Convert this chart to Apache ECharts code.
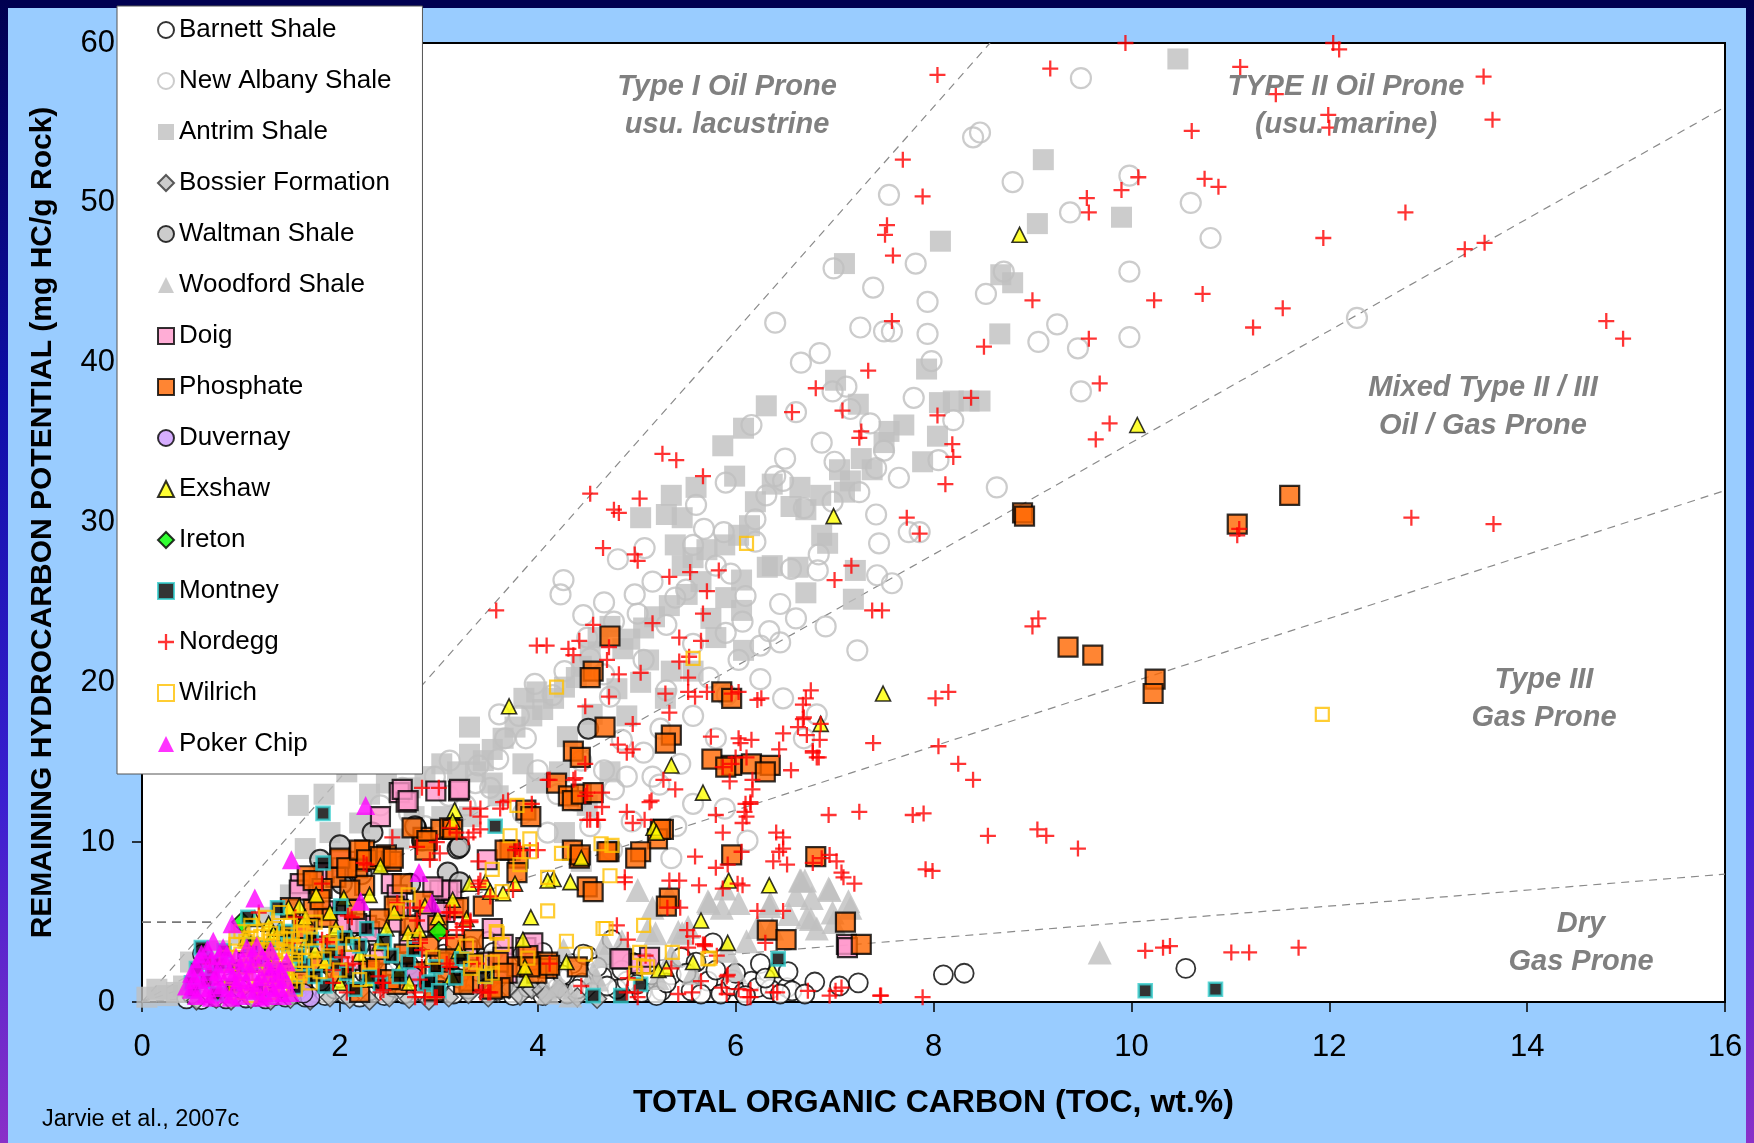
<!DOCTYPE html>
<html>
<head>
<meta charset="utf-8">
<script src="https://cdn.jsdelivr.net/npm/echarts/dist/echarts.min.js"></script>
<style>html,body{margin:0;padding:0;background:#99CCFF;}#c{width:1754px;height:1143px;}</style>
</head>
<body>
<div id="c"></div>
<script>
// ---------- axis ticks ----------
const xTicks = [0, 2, 4, 6, 8, 10, 12, 14, 16];
const yTicks = [0, 10, 20, 30, 40, 50, 60];
// hydrogen-index boundary lines (S2/TOC ratio) and the S2 = 5 cutoff
const hiRatios = [7, 3.5, 2, 0.5];
const s2Cutoff = 5;

// ---------- series data [TOC, S2] ----------
const barnett = [[0.45,0.2],[0.6,0.15],[0.75,0.3],[0.85,0.2],[0.95,0.4],[1.05,0.25],[1.15,0.35],[1.25,0.2],[1.35,0.4],[1.45,0.3],[1.55,0.5],[1.65,0.3],[1.75,0.6],[1.85,0.4],[1.95,0.8],[2.05,0.5],[2.15,1.0],[2.2,0.3],[2.3,0.7],[2.4,1.3],[2.45,0.4],[2.55,0.9],[2.6,2.5],[2.65,0.5],[2.75,1.6],[2.8,2.9],[2.85,0.6],[2.95,2.4],[3.0,1.0],[3.1,2.0],[3.15,0.5],[3.2,1.5],[3.3,0.8],[3.37,1.1],[3.45,2.3],[3.55,0.6],[3.6,1.4],[3.7,2.5],[3.75,0.4],[3.8,1.8],[3.9,0.9],[4.0,1.8],[4.05,0.4],[4.15,2.2],[4.2,0.9],[4.3,0.5],[4.35,2.4],[4.45,1.2],[4.5,2.9],[4.55,0.6],[4.65,1.6],[4.75,3.9],[4.8,0.8],[4.9,1.3],[4.95,2.5],[5.05,0.6],[5.15,1.7],[5.25,0.7],[5.35,1.7],[5.45,2.8],[5.55,0.7],[5.6,2.5],[5.72,1.3],[5.77,3.7],[5.85,0.5],[5.95,1.0],[5.97,1.4],[6.08,0.6],[6.16,1.3],[6.22,0.9],[6.25,2.4],[6.35,0.8],[6.52,0.9],[6.53,1.9],[6.57,0.7],[6.8,1.25],[7.24,1.2],[8.1,1.7],[8.31,1.8],[10.55,2.1],[3.32,3.5],[3.5,3.8],[2.2,3.6],[2.4,4.6],[3.85,3.0],[4.05,3.1],[4.46,3.0],
[0.5,0.5],[0.65,0.6],[0.8,0.7],[1.0,0.8],[1.2,0.6],[1.4,0.9],[1.6,1.1],[1.8,1.3],[2.0,1.5],[2.1,2.2],[2.25,1.8],[2.35,2.8],[2.5,1.9],[2.7,2.3],[2.9,1.7],[3.05,3.0],[3.25,2.6],[3.4,1.9],[3.55,3.1],[3.65,1.0],[3.95,2.6],[4.1,1.3],[4.25,1.7],[4.4,0.8],[4.6,2.2],[4.7,1.0],[4.85,2.0],[5.0,1.1],[5.1,2.4],[5.2,0.4],[5.3,1.2],[5.5,1.8],[5.65,0.5],[5.8,2.0],[6.0,1.8],[6.1,0.4],[6.3,1.5],[6.45,0.5],[6.7,0.5],[7.05,1.0]];

const newAlbany = [[9.49,57.8],[8.40,54.1],[8.47,54.4],[7.55,50.5],[8.80,51.3],[9.98,51.7],[9.38,49.4],[10.6,50.0],[10.8,47.8],[7.82,46.2],[6.99,45.9],[7.39,44.7],[7.94,43.8],[8.71,45.7],[8.53,44.3],[9.98,45.7],[12.28,42.8],[6.40,42.5],[7.26,42.2],[7.50,41.96],[7.58,41.96],[7.94,41.8],[9.25,42.4],[9.98,41.6],[9.06,41.3],[9.46,40.9],[6.66,40.0],[7.98,40.1],[9.49,38.2],[8.64,32.2],[6.98,38.2],[6.61,36.9],[7.12,38.5],[7.16,37.1],[6.16,36.1],[7.36,36.2],[7.50,34.5],[7.42,33.4],[6.87,35.0],[6.50,34.0],[6.40,32.9],[6.48,32.6],[5.90,32.5],[6.31,31.7],[6.69,30.9],[6.98,31.3],[7.42,30.5],[7.75,29.4],[7.86,29.4],[7.45,28.7],[6.84,28.0],[6.83,27.0],[5.88,29.4],[5.57,28.6],[5.68,29.6],[5.08,28.4],[4.81,27.7],[5.16,26.3],[4.26,26.4],[4.23,25.5],[4.46,24.2],[4.77,23.8],[4.67,25.0],[5.01,24.3],[5.39,25.3],[6.45,24.9],[6.61,24.0],[6.91,23.5],[7.23,22.0],[7.58,26.2],[7.43,26.7],[6.56,27.1],[6.07,23.8],[6.25,22.3],[6.03,21.4],[6.45,22.5],[6.34,23.2],[6.25,20.2],[5.57,22.4],[5.73,20.3],[5.57,17.9],[5.80,16.5],[5.24,17.1],[5.44,14.9],[6.69,16.5],[6.82,18.0],[6.48,19.0],[5.07,15.6],[4.73,19.1],[4.67,20.5],[4.53,21.5],[4.27,20.7],[3.97,19.9],[3.81,17.9],[3.61,18.0],[3.67,16.5],[3.88,16.5],[4.15,19.2],[4.44,15.1],[4.67,14.5],[4.77,13.3],[4.39,12.6],[4.53,11.0],[4.36,9.5],[4.75,9.5],[4.10,10.6],[3.85,11.8],[3.52,13.4],[3.37,13.7],[3.27,12.3],[3.11,15.1],[2.96,14.1],[5.57,12.4],[5.16,14.1],[6.12,10.1],[5.89,12.1],[5.40,11.0],[4.95,11.3],[5.35,9.0],[2.86,11.0],[2.63,13.4],[2.41,12.3],[5.91,19.2],[4.85,16.4],[5.30,19.5],[5.07,21.4],[4.90,14.1],[5.23,13.6],[3.40,14.8],[3.6,15.2],[4.0,14.5],[4.2,13.0],[3.1,12.9],[2.7,11.8],[5.3,23.6],[5.5,25.8],[5.8,27.3],[6.2,28.8],[5.95,26.8],[4.98,25.5],[4.5,22.8],[5.9,23.1],[6.1,25.4],[7.0,33.8],[7.25,31.9],[7.65,32.8],[8.05,33.9],[8.2,36.4],[7.8,37.8],[6.85,40.6],[6.2,30.2],[5.6,31.1]];

const antrim = [[10.47,59.0],[9.11,52.7],[9.05,48.7],[9.9,49.1],[8.07,47.6],[7.10,46.2],[8.68,45.5],[8.80,45.0],[8.67,41.8],[7.93,39.6],[7.01,38.9],[6.31,37.3],[6.08,35.9],[5.87,34.8],[7.24,37.4],[8.2,37.6],[8.36,37.6],[8.47,37.6],[8.06,37.5],[8.04,35.4],[7.89,33.8],[7.70,36.1],[7.55,35.7],[7.50,35.0],[7.38,33.3],[7.27,34.0],[7.16,32.6],[7.05,33.3],[7.10,31.9],[6.86,31.7],[6.65,32.2],[6.56,31.0],[6.37,32.4],[6.20,31.3],[5.99,32.9],[5.60,32.2],[5.35,31.7],[5.30,30.5],[5.46,30.3],[5.04,30.3],[6.14,29.8],[6.03,29.2],[5.89,28.6],[5.71,28.3],[5.57,27.8],[5.39,28.6],[6.93,28.7],[6.87,29.2],[6.63,27.2],[6.37,27.3],[7.21,27.0],[7.19,25.2],[6.06,26.4],[6.06,24.5],[6.08,22.0],[5.65,26.3],[5.51,25.5],[5.33,24.8],[5.18,24.1],[5.07,23.4],[4.93,22.7],[4.86,22.1],[5.46,27.3],[4.73,23.5],[4.61,22.8],[4.53,21.9],[4.44,21.0],[5.12,21.4],[5.35,20.7],[5.29,19.0],[5.57,20.7],[5.04,20.0],[4.39,20.3],[4.27,19.7],[4.16,19.0],[4.05,18.3],[3.94,17.9],[3.77,17.2],[3.65,16.5],[3.54,15.8],[3.45,15.1],[3.37,14.4],[3.86,19.0],[3.99,19.4],[3.31,17.2],[3.54,13.7],[3.31,15.5],[3.19,14.4],[3.03,14.9],[2.86,14.1],[2.71,13.4],[2.47,13.7],[2.52,15.1],[2.30,13.0],[2.07,14.4],[1.84,13.0],[1.58,12.3],[3.31,11.6],[3.99,13.7],[4.22,14.4],[4.90,17.9],[4.73,14.4],[4.50,12.3],[4.27,10.6],[4.44,8.8],[3.03,11.6],[2.75,11.6],[2.41,8.8],[2.07,8.1],[1.79,7.8],[1.50,6.7],[1.28,5.3],[1.00,4.3],[0.77,3.2],[0.49,2.5],[0.15,0.8],[0.26,0.4],[6.71,30.8],[5.80,22.8],[6.71,25.6],[6.32,27.2],[0.05,0.3],[0.35,0.6],[0.42,1.0],[2.2,11.2],[1.9,10.6],[1.65,9.6],[2.6,10.2],[3.6,12.9],[3.85,14.9],[4.3,16.6],[4.55,18.0],[4.8,19.6],[5.75,24.0],[5.9,25.3]];

const bossier = [[0.55,0.1],[0.75,0.2],[0.9,0.1],[1.1,0.2],[1.3,0.1],[1.5,0.2],[1.7,0.1],[1.9,0.3],[2.1,0.2],[2.3,0.1],[2.5,0.3],[2.7,0.2],[2.9,0.1],[3.1,0.3],[3.3,0.5],[3.5,0.3],[3.6,0.6],[3.71,0.8],[3.82,0.4],[3.94,0.8],[4.04,0.75],[4.08,0.4],[4.22,0.8],[4.4,0.3],[4.6,0.2]];

const waltman = [[4.51,17.1],[2.33,10.6],[3.19,9.6],[2.77,10.9],[2.83,10.1],[2.41,8.8],[2.22,8.0],[2.02,7.4],[3.09,8.1],[2.71,7.4],[3.03,6.0],[3.21,9.7],[3.21,7.5],[2.76,11.0],[2.0,9.8],[1.8,8.9]];

const woodford = [[9.68,3.1],[6.66,7.6],[6.94,7.1],[6.61,6.7],[6.76,5.2],[7.16,5.9],[5.01,7.0],[5.33,6.7],[5.73,6.2],[5.11,4.5],[5.46,4.3],[6.03,6.2],[6.34,6.0],[5.91,3.2],[4.67,2.9],[4.85,3.8],[5.35,2.9],[5.57,1.8],[6.37,4.6],[6.54,5.5],[6.82,4.6],[6.99,5.0],[6.11,3.8],[5.21,1.5],[4.22,1.1],[3.88,1.7],[4.56,1.8],[4.10,0.6],[4.33,0.4],[5.89,7.1],[5.16,5.9],[5.19,4.3],[5.42,4.4],[5.52,4.7],[5.72,6.3],[5.86,5.9],[6.35,6.2],[6.65,7.6],[6.70,7.6],[6.77,6.5],[6.95,7.0],[6.72,5.3],[6.98,5.6],[7.14,6.3],[6.22,4.7],[5.99,2.0],[4.68,3.7],[4.60,1.4],[4.19,0.9],[4.26,3.25]];

const doig = [[2.60,13.1],[2.67,12.5],[2.41,11.6],[3.20,13.2],[2.97,13.2],[2.01,8.8],[1.84,8.1],[2.20,8.8],[2.52,7.4],[2.58,6.7],[3.09,6.9],[3.15,5.9],[2.86,5.0],[1.84,5.7],[2.07,5.0],[1.62,4.6],[1.39,3.9],[1.20,3.2],[1.07,2.5],[3.54,4.6],[3.49,2.5],[3.29,3.2],[3.65,3.6],[3.88,3.4],[4.85,2.7],[5.04,2.4],[7.12,3.6],[7.13,3.4],[4.83,2.7],[5.13,2.8],[3.95,3.7],[3.65,2.8],[3.69,1.8],[3.13,7.0],[3.01,7.0],[3.06,5.6],[3.49,8.9],[2.63,13.3],[2.69,12.6],[3.21,13.3],[2.56,5.0],[2.59,5.8],[2.0,8.9],[2.02,8.4],[2.27,4.8],[2.30,4.4],[2.17,4.9],[2.0,4.9],[1.6,7.4],[1.59,7.0],[2.94,7.2],[2.4,3.0],[1.8,3.5],[2.7,3.7],[2.1,2.6]];

const phosphate = [[11.60,31.7],[11.07,29.9],[8.90,30.6],[8.92,30.4],[9.36,22.2],[9.61,21.7],[10.24,20.2],[10.22,19.3],[4.73,22.9],[4.56,20.7],[4.53,20.3],[5.86,19.4],[5.96,19.0],[5.35,16.7],[5.29,16.2],[4.68,17.2],[4.36,15.7],[4.43,15.3],[5.76,15.2],[5.96,14.8],[5.90,14.7],[6.16,14.9],[6.35,14.8],[6.30,14.4],[4.19,13.7],[4.31,12.9],[4.35,12.6],[4.44,13.0],[4.56,13.1],[3.88,12.0],[3.93,11.6],[6.81,9.1],[5.96,9.2],[5.27,10.8],[5.21,10.2],[5.24,10.8],[5.04,9.4],[4.99,9.0],[4.72,9.4],[4.70,9.4],[4.42,9.0],[4.35,9.5],[4.43,9.2],[4.50,7.2],[4.56,6.9],[3.72,9.5],[3.80,9.0],[3.79,8.1],[3.67,9.5],[2.84,10.3],[2.73,10.9],[3.02,10.8],[3.11,10.9],[3.14,10.8],[2.88,10.1],[2.86,9.5],[2.47,9.2],[2.52,8.8],[2.25,9.5],[2.18,8.4],[2.0,9.0],[1.96,7.8],[1.67,7.9],[1.82,7.1],[2.25,7.3],[2.63,7.4],[2.55,6.0],[2.84,6.3],[3.20,5.9],[2.99,4.8],[2.71,4.8],[3.17,3.6],[4.10,2.5],[3.79,2.2],[3.90,2.9],[4.40,2.2],[4.10,2.1],[5.33,6.5],[5.30,6.0],[6.32,4.5],[6.51,3.9],[7.11,5.0],[7.27,3.6],[3.60,2.5],[3.65,1.8],[3.99,1.8],[3.62,0.9],[3.31,1.3],[3.25,1.1],[3.54,0.8],[3.05,1.8],[3.01,2.5],[2.77,1.9],[2.58,1.1],[2.30,2.0],[1.96,1.8],[1.62,1.3],[1.39,1.8],[1.73,7.6],[2.07,8.4],[2.20,9.5],[2.27,8.9],[2.41,9.1],[2.54,9.0],[1.87,5.3],[1.73,5.8],[2.37,2.1],[2.51,1.4],[2.15,5.8],[3.92,2.2],[4.12,2.3],[3.35,2.4],
[1.5,5.9],[1.65,4.6],[1.8,6.4],[1.95,3.5],[2.1,7.0],[2.4,5.2],[2.65,3.0],[2.9,3.5],[3.1,2.7],[3.35,3.9],[3.45,6.0],[2.2,0.6],[2.95,0.7],[1.8,2.5]];

const duvernay = [[2.74,1.6],[1.70,0.3],[0.61,3.0],[1.63,0.55]];

const exshaw = [[8.87,48.0],[10.06,36.1],[6.99,30.4],[7.49,19.3],[6.86,17.4],[3.71,18.5],[5.35,14.8],[5.67,13.1],[6.34,7.3],[5.93,7.6],[5.65,5.1],[5.17,10.9],[5.2,10.6],[4.44,9.0],[4.16,7.7],[4.10,7.6],[4.33,7.5],[3.65,6.8],[3.47,7.5],[3.77,7.4],[3.52,6.9],[3.14,6.4],[2.99,5.3],[2.69,4.3],[2.30,6.7],[2.04,6.5],[1.76,6.7],[1.59,6.0],[1.48,5.9],[1.28,4.9],[1.14,5.2],[3.88,1.4],[6.37,2.0],[5.22,2.0],[4.29,2.5],[5.30,2.1],[5.57,2.5],[5.92,3.7],[3.28,5.2],[3.93,5.3],[3.85,3.9],[3.87,2.2],[3.13,1.6],[3.16,12.0],[3.14,11.3],[2.41,8.5],[3.31,7.4],[2.86,6.0],[1.96,4.6],[2.47,4.6],[3.20,3.2],[1.33,4.3],[1.67,3.9],[1.50,1.8],[0.94,1.1],[2.2,3.0],[2.6,2.0],[1.85,2.5],[1.1,3.7],[0.8,2.6],
[1.25,3.0],[1.4,4.6],[1.55,2.6],[1.65,5.3],[1.75,3.2],[1.9,5.6],[2.0,1.2],[2.1,4.1],[2.3,1.4],[2.4,3.7],[2.55,5.6],[2.7,1.2],[2.8,4.5],[1.05,4.0],[0.7,1.6]];

const ireton = [[1.01,5.0],[3.0,4.4]];

const montney = [[10.14,0.7],[10.85,0.8],[6.43,2.7],[4.56,0.4],[4.84,0.4],[5.04,1.1],[3.57,11.0],[1.83,11.8],[1.83,8.7],[1.37,5.9],[1.07,5.3],[0.64,2.7],[0.83,3.2],[0.71,1.8],[0.55,2.1],[2.01,6.0],[2.27,4.6],[2.52,2.9],[2.69,2.5],[1.71,3.9],[1.48,3.6],[1.28,3.4],[1.16,2.5],[1.96,2.4],[2.97,2.2],[3.23,2.7],[1.11,3.6],[2.07,1.8],[1.62,2.4],[2.41,1.1],[2.86,1.1],[0.5,1.2],[0.9,1.0],[1.4,1.5],[1.85,1.0],[2.2,3.5],[3.17,1.5],[2.91,1.25],[3.47,1.6],
[0.52,0.7],[0.6,3.4],[0.65,1.3],[0.75,0.5],[0.78,2.4],[0.95,2.2],[1.2,0.7],[1.3,1.9],[1.55,0.9],[1.58,2.9],[1.75,1.6],[1.9,3.1],[2.15,0.8],[2.3,1.6],[2.45,3.8],[2.6,1.6],[2.75,3.3],[3.0,0.7],[1.45,4.4],[2.05,4.0]];

const nordegg = [[9.94,60],[12.04,60],[12.1,59.6],[9.18,58.4],[8.04,58.0],[11.10,58.5],[11.46,56.8],[13.56,57.9],[13.65,55.2],[11.99,55.5],[12.0,54.7],[10.61,54.5],[7.69,52.7],[10.07,51.6],[9.9,50.8],[10.74,51.5],[10.88,51.0],[7.89,50.4],[9.55,50.3],[9.57,49.4],[7.53,48.6],[7.51,48.0],[12.77,49.4],[11.94,47.8],[13.57,47.5],[13.37,47.1],[7.59,46.7],[10.72,44.3],[10.23,43.9],[9.0,43.9],[11.53,43.4],[7.58,42.6],[11.23,42.2],[14.8,42.6],[14.97,41.5],[9.57,41.5],[8.51,41.0],[7.34,39.5],[6.81,38.4],[9.68,38.7],[6.57,36.9],[7.08,37.0],[8.38,37.8],[8.04,36.7],[9.78,36.2],[9.64,35.2],[7.27,35.7],[7.25,35.3],[8.19,34.9],[8.2,34.1],[8.12,32.4],[5.26,34.3],[5.4,33.9],[5.67,32.9],[4.53,31.8],[5.03,31.5],[4.77,30.8],[4.82,30.6],[7.73,30.3],[7.86,29.3],[12.83,30.3],[13.66,29.9],[11.09,29.6],[11.07,29.2],[4.66,28.4],[4.98,28.0],[5.01,27.6],[5.54,26.9],[5.33,26.6],[5.71,25.7],[3.58,24.5],[7.38,24.5],[7.48,24.5],[9.06,24.0],[9.0,23.5],[5.16,23.7],[3.99,22.3],[4.09,22.3],[4.72,22.2],[5.53,21.6],[5.43,21.3],[4.82,20.5],[5.04,20.6],[5.71,19.4],[6.76,19.5],[6.71,19.0],[8.15,19.4],[8.02,19.0],[5.33,18.1],[6.26,19.0],[6.68,17.7],[6.63,17.2],[6.85,16.4],[7.39,16.2],[8.05,16.0],[6.05,16.2],[8.25,14.9],[8.40,13.9],[6.78,15.7],[6.82,15.3],[4.48,14.9],[5.87,14.7],[6.56,14.5],[6.17,13.3],[6.10,12.4],[7.25,11.9],[7.79,11.7],[7.9,11.8],[6.41,10.6],[5.13,12.5],[5.80,11.7],[9.05,10.8],[9.14,10.4],[8.55,10.4],[9.46,9.6],[6.48,10.3],[6.44,9.4],[6.87,9.0],[7.92,8.3],[7.99,8.2],[7.09,7.8],[5.59,9.1],[5.80,8.4],[4.88,7.8],[5.63,7.3],[6.02,7.4],[6.22,5.7],[6.48,5.7],[6.38,8.8],[10.14,3.2],[10.32,3.4],[10.39,3.5],[11.01,3.1],[11.19,3.1],[11.69,3.4],[7.89,0.3],[7.47,0.4],[7.07,0.9],[7.01,0.7],[6.73,0.7],[6.38,0.6],[6.03,0.8],[5.65,1.3],[5.42,0.5],[5.91,0.5],[5.09,2.9],[4.91,1.5],[4.44,1.0],[5.35,2.1],[5.69,3.5],[5.81,2.9],
[4.31,22.1],[4.36,21.7],[4.42,22.6],[4.56,23.6],[4.70,21.4],[4.48,18.5],[4.72,19.1],[5.43,22.8],[5.65,22.6],[5.29,19.3],[5.52,20.3],[5.52,19.4],[5.59,19.1],[4.96,17.4],[4.81,16.1],[4.9,15.6],[4.96,15.8],[4.10,13.9],[4.38,14.0],[4.65,13.1],[4.65,12.2],[4.5,13.1],[4.9,11.9],[5.08,11.4],[4.96,11.2],[4.5,11.4],[4.61,11.4],[5.15,12.6],[5.27,13.9],[5.39,13.3],[5.67,24.3],[5.83,27.0],[5.96,19.3],[6.03,19.4],[6.22,18.9],[6.68,18.6],[6.69,17.8],[6.48,16.8],[6.72,16.7],[6.86,17.4],[6.78,15.6],[6.84,15.3],[6.44,15.8],[6.16,16.4],[6.03,16.5],[5.75,16.6],[7.0,26.4],[7.17,27.3],[5.96,14.9],[6.11,15.3],[6.0,15.3],[5.94,13.8],[6.17,13.9],[6.15,12.5],[6.11,11.6],[6.07,11.2],[5.87,10.6],[6.09,11.9],[6.15,12.4],[6.48,9.6],[6.52,8.6],[6.94,11.7],[7.07,8.1],[7.02,8.8],[6.95,9.2],[7.2,7.4],[6.78,8.7],[6.06,9.4],[5.92,8.6],[5.87,7.1],[6.07,7.3],[5.33,7.6],[5.43,7.6],[5.31,5.9],[5.44,5.9],[4.80,4.8],[4.91,3.9],[5.51,4.5],[5.57,4.1],[5.52,3.4],[5.67,3.6],[5.92,1.7],[5.91,1.6],[5.86,0.9],[5.56,0.6],[6.15,0.75],[6.15,0.3],[6.12,0.3],[6.42,0.6],[6.95,0.4],[7.46,0.4],[6.30,3.7],[4.98,0.6],[5.01,0.3],[4.9,0.6],[3.42,0.6],[3.52,0.6],[3.11,2.2],[2.81,3.7],[2.83,2.2],[2.76,0.6],[2.41,0.6],[3.75,7.0],[3.40,7.4],[4.88,7.5],[3.32,12.1],[3.42,11.6],[3.42,12.1],[3.65,12.5],[3.70,12.6],[3.94,12.4],[3.62,12.1],[3.35,10.6],[3.30,10.3],[3.18,10.6],[3.42,10.8],[2.53,10.3],[3.01,9.3],[2.91,8.9],[2.83,13.4],[3.0,13.4],[3.79,9.7],[4.0,9.5],[3.40,8.8],[3.52,6.6],[2.58,6.2],[2.71,5.9],[2.81,5.9],[3.11,5.6],[3.16,5.6],[3.32,5.1],[3.18,4.5],[3.24,4.7],[3.08,4.0],[2.81,1.4],[2.98,0.3],[2.44,1.2],
[1.18,5.6],[1.82,7.4],[2.08,5.4],[2.12,5.3],[1.55,5.3],[1.53,3.7],[2.24,8.7],[2.27,8.6],[2.78,9.7],[2.98,10.0],[2.78,5.1],[2.81,3.9],[2.83,3.25],[1.82,3.9],[1.87,3.75],[2.02,2.8],[2.08,2.3],[2.13,2.4],[1.93,2.0],[1.93,1.2],[2.39,1.6],[2.43,1.2],[2.44,0.75],[2.07,0.6],[2.76,0.3],[2.86,0.3],[2.96,0.3],[0.69,2.4],[3.08,2.4],[3.44,0.75],[3.5,0.6],[4.12,2.4],[3.39,2.4],[3.08,5.6],[3.24,4.9],[3.32,5.0],[4.12,13.9],[4.36,13.9],[4.48,12.9],[4.53,11.4],[4.60,11.4],[3.77,9.5],[3.82,9.5],[3.92,9.5],[3.42,7.6],[3.40,7.2],[3.11,10.9],[5.69,3.6]];

const wilrich = [[11.93,18.0],[6.11,28.7],[4.19,19.7],[5.57,21.5],[4.64,9.9],[4.10,7.8],[3.92,10.2],[3.72,10.4],[3.58,4.4],[5.07,4.8],[4.73,7.9],[4.69,4.6],[4.48,3.0],[4.10,5.7],[4.29,3.8],[5.07,2.2],[5.72,2.7],[5.74,2.75],[5.36,3.1],[3.54,1.8],[3.37,2.5],[3.28,3.5],[3.64,6.9],[2.69,6.7],[2.58,5.7],[2.75,3.9],[2.42,3.2],[2.30,2.5],[2.13,3.6],[1.96,4.3],[1.84,2.7],[1.59,3.4],[1.45,1.8],[3.79,12.3],[3.92,9.4],[3.82,8.6],[3.54,8.3],[4.24,9.3],[4.75,9.8],[4.66,4.6],[3.59,4.3],[3.64,3.6],[2.94,2.8],[3.32,2.1],[3.54,2.5],[3.47,1.6],[3.90,2.75],[5.03,3.1],[5.11,2.2],[4.99,1.8],
[0.85,2.8],[0.95,3.6],[1.0,4.4],[1.05,2.2],[1.1,4.8],[1.15,3.3],[1.2,4.1],[1.25,2.7],[1.3,3.8],[1.35,4.6],[1.4,2.9],[1.45,3.9],[1.5,4.8],[1.55,2.4],[1.6,4.3],[1.05,1.4],[1.15,1.8],[1.3,1.2],[1.45,1.0],[0.9,1.6],[1.25,5.3],[1.4,5.6],[1.6,5.2],[1.7,4.7],[1.75,3.2],[1.9,3.7],[2.0,2.0],[2.2,1.4],[1.0,3.0],[1.2,2.3],[1.35,3.3],[1.5,3.5],[1.1,4.0],[1.3,4.3],
[0.95,0.6],[1.0,1.0],[1.05,3.8],[1.1,0.4],[1.1,2.6],[1.15,4.4],[1.2,1.0],[1.25,3.5],[1.3,0.6],[1.3,2.0],[1.35,1.6],[1.4,4.0],[1.4,0.8],[1.45,2.3],[1.5,1.3],[1.5,4.2],[1.55,3.0],[1.55,0.8],[1.6,1.8],[1.65,2.6],[1.65,4.0],[1.7,1.2],[1.75,5.0],[1.8,1.9],[0.95,4.0],[1.2,3.2],[1.0,1.9],[1.35,2.6],[1.25,1.6],[1.45,3.2]];

const pokerChip = [[2.26,12.3],[1.51,8.9],[1.14,6.5],[0.91,4.9],[2.21,6.3],[2.80,8.1],[2.93,6.2],[0.55,2.2],[0.82,3.4],[1.06,3.4],[1.11,2.4],[0.77,2.0],[0.92,1.6],[1.29,1.8],[1.39,0.9],[0.5,0.8],[0.6,1.5],[0.65,0.5],[0.7,2.6],[0.75,1.1],[0.85,0.5],[0.85,2.4],[0.95,0.9],[1.0,2.0],[1.0,0.4],[1.05,1.3],[1.15,0.7],[1.2,1.6],[1.25,0.4],[1.3,1.0],[1.35,2.4],[1.45,1.4],[1.5,0.6],[0.6,3.0],[0.72,3.8],[0.95,2.8],[1.12,3.0],[1.22,2.8],[1.4,2.0],[0.55,0.4],[0.68,1.9],
[0.45,1.0],[0.5,1.8],[0.58,2.7],[0.62,0.9],[0.7,0.3],[0.75,1.6],[0.8,0.9],[0.88,1.9],[0.9,0.3],[0.98,1.4],[1.02,2.6],[1.08,0.8],[1.1,1.9],[1.18,1.2],[1.2,0.3],[1.28,2.2],[1.33,0.6],[1.38,1.5],[1.42,0.4],[1.46,2.5],[0.66,3.3],[0.86,3.0],[1.16,3.5],[1.3,3.2],[0.53,1.4],[0.78,2.9]];

// ---------- names ----------
const seriesNames = ['Barnett Shale','New Albany Shale','Antrim Shale','Bossier Formation','Waltman Shale','Woodford Shale','Doig','Phosphate','Duvernay','Exshaw','Ireton','Montney','Nordegg','Wilrich','Poker Chip'];

const FONT = '"Liberation Sans", Arial, sans-serif';
const PLUS = 'path://M6,0h2v6h6v2h-6v6h-2v-6h-6v-2h6z';

function sc(name, data, symbol, size, style) {
  return { name, type: 'scatter', data, symbol, symbolSize: size, itemStyle: style, silent: true, z: 3 };
}

const boundaryLines = hiRatios.map(r => ({
  type: 'line', silent: true, showSymbol: false, symbol: 'none', z: 1,
  data: [[0, 0], [Math.min(16, 60 / r), Math.min(60, 16 * r)]],
  lineStyle: { color: '#8a8a8a', width: 1.2, type: [8, 6] }
}));
boundaryLines.push({
  type: 'line', silent: true, showSymbol: false, symbol: 'none', z: 1,
  data: [[0, s2Cutoff], [s2Cutoff / hiRatios[0], s2Cutoff]],
  lineStyle: { color: '#777', width: 1.6, type: [9, 6] }
});

const T = 'rgba(0,0,0,0)';
const scatterSeries = [
  sc(seriesNames[0], barnett, 'circle', 19, { color: '#fff', borderColor: '#000', borderWidth: 1.8 }),
  sc(seriesNames[1], newAlbany, 'circle', 20, { color: T, borderColor: '#BFBFBF', borderWidth: 2.2 }),
  sc(seriesNames[2], antrim, 'rect', 21, { color: '#BFBFBF' }),
  sc(seriesNames[3], bossier, 'diamond', 19, { color: '#BFBFBF', borderColor: '#333', borderWidth: 1.5 }),
  sc(seriesNames[4], waltman, 'circle', 20, { color: '#BFBFBF', borderColor: '#000', borderWidth: 2 }),
  sc(seriesNames[5], woodford, 'triangle', 24, { color: '#BFBFBF' }),
  sc(seriesNames[6], doig, 'rect', 19, { color: '#FF99CC', borderColor: '#000', borderWidth: 2.2 }),
  sc(seriesNames[7], phosphate, 'rect', 19, { color: '#FF6600', borderColor: '#000', borderWidth: 2.2 }),
  sc(seriesNames[8], duvernay, 'circle', 19, { color: '#CC99FF', borderColor: '#000', borderWidth: 1.5 }),
  sc(seriesNames[9], exshaw, 'triangle', 15, { color: '#FFFF00', borderColor: '#000', borderWidth: 1.6 }),
  sc(seriesNames[10], ireton, 'diamond', 20, { color: '#00FF00', borderColor: '#000', borderWidth: 1.6 }),
  sc(seriesNames[11], montney, 'rect', 13, { color: '#000', borderColor: '#33CCCC', borderWidth: 2.6 }),
  sc(seriesNames[12], nordegg, PLUS, 16, { color: '#FF0000' }),
  sc(seriesNames[13], wilrich, 'rect', 13, { color: T, borderColor: '#FFC000', borderWidth: 2.2 }),
  sc(seriesNames[14], pokerChip, 'triangle', 19, { color: '#FF00FF' })
];

const regionLabels = [
  { text: 'Type I Oil Prone\nusu. lacustrine', x: 727, y: 106 },
  { text: 'TYPE II Oil Prone\n(usu. marine)', x: 1346, y: 106 },
  { text: 'Mixed Type II / III\nOil / Gas Prone', x: 1483, y: 407 },
  { text: 'Type III\nGas Prone', x: 1544, y: 699 },
  { text: 'Dry\nGas Prone', x: 1581, y: 943 }
];

const edgeGrad = { type: 'linear', x: 0, y: 0, x2: 0, y2: 1, colorStops: [
  { offset: 0, color: '#000050' }, { offset: 0.35, color: '#0e0ea8' },
  { offset: 0.7, color: '#3a1fd0' }, { offset: 1, color: '#8a30c8' } ] };

const chart = echarts.init(document.getElementById('c'), null, { renderer: 'canvas' });
chart.setOption({
  animation: false,
  backgroundColor: '#99CCFF',
  grid: { left: 142, right: 29, top: 43, bottom: 141, show: true, backgroundColor: '#fff', borderColor: '#000', borderWidth: 2 },
  xAxis: {
    type: 'value', min: xTicks[0], max: xTicks[xTicks.length - 1], interval: xTicks[1] - xTicks[0],
    name: 'TOTAL ORGANIC CARBON (TOC, wt.%)', nameLocation: 'middle', nameGap: 85,
    nameTextStyle: { fontSize: 32, fontWeight: 'bold', color: '#000', fontFamily: FONT },
    axisLine: { show: true, onZero: false, lineStyle: { color: '#000', width: 2 } },
    axisTick: { show: true, inside: false, length: 10, lineStyle: { color: '#000', width: 1.5 } },
    axisLabel: { fontSize: 31, color: '#000', margin: 30, fontFamily: FONT },
    splitLine: { show: false }
  },
  yAxis: {
    type: 'value', min: yTicks[0], max: yTicks[yTicks.length - 1], interval: yTicks[1] - yTicks[0],
    name: 'REMAINING HYDROCARBON POTENTIAL (mg HC/g Rock)', nameLocation: 'middle', nameGap: 84, nameRotate: 90,
    nameTextStyle: { fontSize: 30, fontWeight: 'bold', color: '#000', fontFamily: FONT },
    axisLine: { show: true, onZero: false, lineStyle: { color: '#000', width: 2 } },
    axisTick: { show: true, inside: false, length: 10, lineStyle: { color: '#000', width: 1.5 } },
    axisLabel: { fontSize: 31, color: '#000', margin: 27, fontFamily: FONT },
    splitLine: { show: false }
  },
  legend: {
    data: seriesNames, orient: 'vertical', left: 117, top: 6,
    padding: [9, 31, 15, 40], itemGap: 21, itemWidth: 16, itemHeight: 16,
    backgroundColor: '#fff', borderColor: '#555', borderWidth: 1,
    textStyle: { fontSize: 26, color: '#000', fontFamily: FONT, lineHeight: 30 },
    selectedMode: false, z: 10
  },
  graphic: {
    elements: [
      { type: 'rect', z: -100, silent: true, shape: { x: 0, y: 0, width: 1754, height: 8 }, style: { fill: '#000050' } },
      { type: 'rect', z: -100, silent: true, shape: { x: 0, y: 0, width: 8, height: 1143 }, style: { fill: edgeGrad } },
      { type: 'rect', z: -100, silent: true, shape: { x: 1746, y: 0, width: 8, height: 1143 }, style: { fill: edgeGrad } },
      ...regionLabels.map(l => ({
        type: 'text', z: 50, silent: true, x: l.x, y: l.y,
        style: { text: l.text, font: 'italic bold 29px ' + FONT, fill: '#808080',
                 align: 'center', verticalAlign: 'middle', textAlign: 'center', textVerticalAlign: 'middle', lineHeight: 38 }
      })),
      { type: 'text', z: 50, silent: true, x: 42, y: 1120,
        style: { text: 'Jarvie et al., 2007c', font: '23.5px ' + FONT, fill: '#000', align: 'left', verticalAlign: 'middle', textAlign: 'left', textVerticalAlign: 'middle' } }
    ]
  },
  series: [...boundaryLines, ...scatterSeries]
});
</script>
</body>
</html>
